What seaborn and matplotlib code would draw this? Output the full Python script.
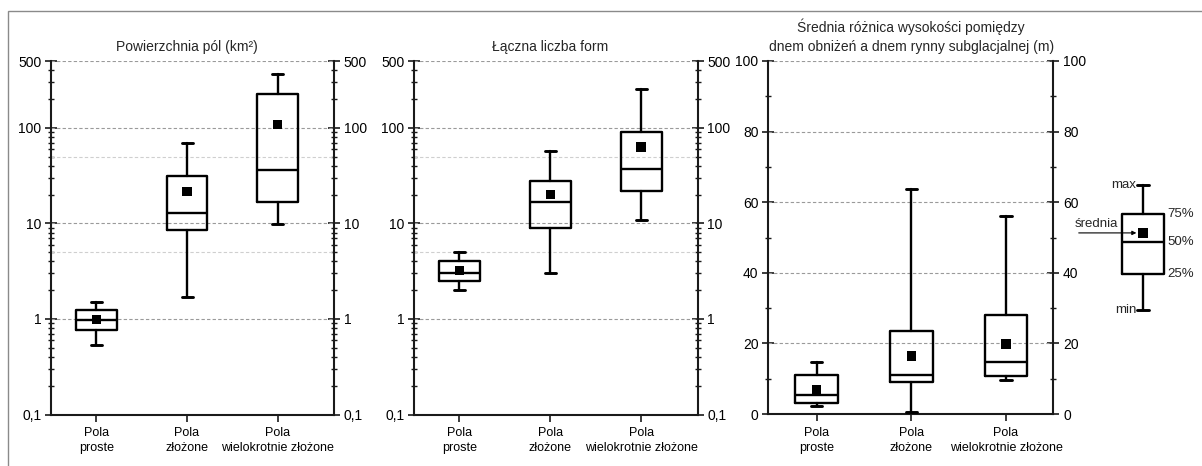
import matplotlib
matplotlib.use("Agg")
import matplotlib.pyplot as plt
import matplotlib.ticker as mticker
from matplotlib.patches import Rectangle
import seaborn as sns
import numpy as np

# ---------------- data ----------------
categories = ["Pola\nproste", "Pola\nzłożone", "Pola\nwielokrotnie złożone"]

titles = ["Powierzchnia pól (km²)",
          "Łączna liczba form",
          "Średnia różnica wysokości pomiędzy\ndnem obniżeń a dnem rynny subglacjalnej (m)"]

# panel 1: area of fields (km2)
area_min = [0.54, 1.7, 9.9]
area_q1 = [0.76, 8.5, 16.6]
area_med = [0.98, 12.9, 36.5]
area_q3 = [1.23, 31.0, 227.0]
area_max = [1.49, 70.0, 362.0]
area_mean = [0.98, 21.7, 108.0]

# panel 2: total number of forms
forms_min = [2.0, 3.0, 10.9]
forms_q1 = [2.5, 8.9, 21.7]
forms_med = [3.0, 16.6, 36.8]
forms_q3 = [4.0, 27.5, 90.8]
forms_max = [5.0, 56.9, 252.0]
forms_mean = [3.23, 20.0, 62.7]

# panel 3: mean height difference (m)
height_min = [2.4, 0.5, 9.6]
height_q1 = [3.2, 9.1, 10.8]
height_med = [5.4, 11.0, 14.7]
height_q3 = [11.0, 23.5, 28.1]
height_max = [14.8, 63.6, 56.0]
height_mean = [6.8, 16.4, 19.8]

# legend example box
legend_stats = dict(whislo=29.5, q1=39.8, med=48.7, q3=56.7, whishi=65.0, mean=51.3)

log_ticks = [0.1, 1, 10, 100, 500]
log_tick_labels = ["0,1", "1", "10", "100", "500"]
log_grid_major = [1, 10, 100, 500]
log_grid_light = [5, 50]
lin_ticks = [0, 20, 40, 60, 80, 100]
lin_grid = [20, 40, 60, 80, 100]

# ---------------- style ----------------
sns.set_theme(style="white")
plt.rcParams["font.family"] = ["Liberation Sans", "DejaVu Sans"]
plt.rcParams["axes.unicode_minus"] = False

W, H = 1202, 466
fig = plt.figure(figsize=(W / 100, H / 100), dpi=100)

def fr(l, r, top, bot):
    return [l / W, (H - bot) / H, (r - l) / W, (bot - top) / H]

ax1 = fig.add_axes(fr(51, 334, 61, 414.5))
ax2 = fig.add_axes(fr(414, 697.5, 61, 414.5))
ax3 = fig.add_axes(fr(768.3, 1053.3, 61, 414))
axl = fig.add_axes(fr(1143 - 47.25, 1143 + 47.25, 61, 414))

LW = 1.7
box_kw = dict(showfliers=False, widths=0.45, capwidths=0.12,
              boxprops=dict(color="black", lw=LW),
              medianprops=dict(color="black", lw=LW),
              whiskerprops=dict(color="black", lw=LW),
              capprops=dict(color="black", lw=LW + 0.4),
              zorder=3)

MS = 46

def make_stats(mn, q1, med, q3, mx):
    return [dict(whislo=a, q1=b, med=c, q3=d, whishi=e, fliers=[])
            for a, b, c, d, e in zip(mn, q1, med, q3, mx)]

def style_axis(ax, ticks, labels, xlim):
    for s in ["left", "right", "bottom"]:
        ax.spines[s].set_color("#1a1a1a")
        ax.spines[s].set_linewidth(1.5)
    ax.spines["top"].set_visible(False)
    ax.set_yticks(ticks)
    ax.set_yticklabels(labels)
    ax.tick_params(axis="y", which="major", direction="inout", length=8, width=1.2,
                   left=True, right=True, labelleft=True, labelright=True,
                   labelsize=10, pad=3, colors="#1a1a1a", labelcolor="black")
    ax.tick_params(axis="y", which="minor", direction="inout", length=5, width=1.0,
                   left=True, right=True, colors="#1a1a1a")
    ax.tick_params(axis="x", which="major", direction="out", length=5, width=1.2,
                   bottom=True, labelsize=9, pad=4, colors="#1a1a1a", labelcolor="black")
    ax.set_xticks([0, 1, 2])
    ax.set_xticklabels(categories, linespacing=1.35)
    ax.set_xlim(*xlim)
    ax.set_xlabel("")
    ax.set_ylabel("")
    ax.grid(False)

def add_title(ax, text):
    ax.annotate(text, xy=(1, 1), xycoords=("data", "axes fraction"),
                xytext=(0, 5), textcoords="offset points",
                ha="center", va="bottom", fontsize=10, linespacing=1.45)

panels = [
    (ax1, make_stats(area_min, area_q1, area_med, area_q3, area_max), area_mean),
    (ax2, make_stats(forms_min, forms_q1, forms_med, forms_q3, forms_max), forms_mean),
]

for (ax, stats, means), title in zip(panels, titles[:2]):
    ax.set_yscale("log")
    ax.set_ylim(0.1, 500)
    for g in log_grid_major:
        ax.axhline(g, color="#9a9a9a", lw=0.8, ls=(0, (3, 2)), zorder=1)
    for g in log_grid_light:
        ax.axhline(g, color="#cfcfcf", lw=0.8, ls=(0, (3, 2)), zorder=1)
    ax.bxp(stats, positions=[0, 1, 2], **box_kw)
    sns.scatterplot(x=[0, 1, 2], y=means, marker="s", color="black", s=MS,
                    edgecolor="none", ax=ax, zorder=4, legend=False)
    style_axis(ax, log_ticks, log_tick_labels, (-0.5, 2.62))
    ax.yaxis.set_minor_locator(mticker.LogLocator(base=10, subs=np.arange(2, 10)))
    ax.yaxis.set_minor_formatter(mticker.NullFormatter())
    add_title(ax, title)

# panel 3 (linear)
ax3.set_ylim(0, 100)
for g in lin_grid:
    ax3.axhline(g, color="#9a9a9a", lw=0.8, ls=(0, (3, 2)), zorder=1)
ax3.bxp(make_stats(height_min, height_q1, height_med, height_q3, height_max),
        positions=[0, 1, 2], **box_kw)
sns.scatterplot(x=[0, 1, 2], y=height_mean, marker="s", color="black", s=MS,
                edgecolor="none", ax=ax3, zorder=4, legend=False)
style_axis(ax3, lin_ticks, [str(t) for t in lin_ticks], (-0.51, 2.5))
ax3.yaxis.set_minor_locator(mticker.MultipleLocator(10))
add_title(ax3, titles[2])

# legend example
axl.set_ylim(0, 100)
axl.set_xlim(-0.5, 0.5)
axl.axis("off")
ls = legend_stats
axl.bxp([dict(whislo=ls["whislo"], q1=ls["q1"], med=ls["med"], q3=ls["q3"],
              whishi=ls["whishi"], fliers=[])], positions=[0], **box_kw)
sns.scatterplot(x=[0], y=[ls["mean"]], marker="s", color="black", s=MS,
                edgecolor="none", ax=axl, zorder=4, legend=False)
fs = 9.5
axl.text(-0.07, ls["whishi"], "max", ha="right", va="center", fontsize=fs)
axl.text(-0.07, ls["whislo"], "min", ha="right", va="center", fontsize=fs)
axl.text(0.26, ls["q3"], "75%", ha="left", va="center", fontsize=fs)
axl.text(0.26, ls["med"], "50%", ha="left", va="center", fontsize=fs)
axl.text(0.26, ls["q1"], "25%", ha="left", va="center", fontsize=fs)
axl.annotate("", xy=(-0.07, ls["mean"]), xytext=(-0.68, ls["mean"]),
             arrowprops=dict(arrowstyle="-|>", color="black", lw=0.8,
                             mutation_scale=6, shrinkA=0, shrinkB=0),
             annotation_clip=False)
axl.text(-0.26, ls["mean"] + 0.8, "średnia", ha="right", va="bottom", fontsize=fs,
         clip_on=False)

# outer frame
fig.patches.append(Rectangle((8 / W, -0.1), 1.2, (H - 11) / H + 0.1,
                             transform=fig.transFigure, fill=False,
                             edgecolor="#8a8a8a", lw=1.0, zorder=0))

fig.savefig("out.png", dpi=100)
